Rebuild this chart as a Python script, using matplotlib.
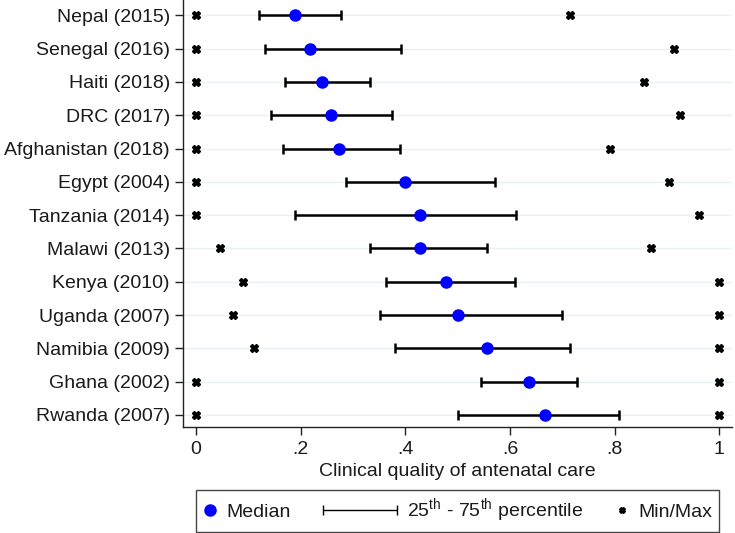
import numpy as np
import matplotlib
matplotlib.use("Agg")
import matplotlib.pyplot as plt
from matplotlib.legend_handler import HandlerErrorbar, HandlerLine2D
from matplotlib.transforms import blended_transform_factory

plt.rcParams['font.family'] = ['Liberation Sans', 'DejaVu Sans']
plt.rcParams['mathtext.fontset'] = 'custom'
plt.rcParams['mathtext.rm'] = 'Liberation Sans'

countries = ["Nepal (2015)", "Senegal (2016)", "Haiti (2018)", "DRC (2017)",
             "Afghanistan (2018)", "Egypt (2004)", "Tanzania (2014)",
             "Malawi (2013)", "Kenya (2010)", "Uganda (2007)",
             "Namibia (2009)", "Ghana (2002)", "Rwanda (2007)"]
median = [0.190, 0.218, 0.240, 0.259, 0.273, 0.400, 0.428,
          0.428, 0.478, 0.500, 0.556, 0.637, 0.667]
p25 = [0.120, 0.131, 0.170, 0.143, 0.167, 0.286, 0.190,
       0.333, 0.363, 0.352, 0.381, 0.545, 0.500]
p75 = [0.278, 0.391, 0.333, 0.375, 0.389, 0.572, 0.611,
       0.556, 0.609, 0.699, 0.714, 0.728, 0.809]
vmin = [0.0, 0.0, 0.0, 0.0, 0.0, 0.0, 0.0,
        0.045, 0.090, 0.071, 0.111, 0.0, 0.0]
vmax = [0.714, 0.913, 0.857, 0.925, 0.792, 0.905, 0.962,
        0.869, 1.0, 1.0, 1.0, 1.0, 1.0]
xticks = [0, 0.2, 0.4, 0.6, 0.8, 1.0]
xticklabels = ["0", ".2", ".4", ".6", ".8", "1"]

FS = 14


class WideErrHandler(HandlerErrorbar):
    # widen the handle box for the percentile bar only
    def legend_artist(self, legend, orig_handle, fontsize, handlebox):
        handlebox.width = 3.85 * fontsize
        return super().legend_artist(legend, orig_handle, fontsize, handlebox)


def thin_bar(legend_handle, orig_handle):
    legend_handle.update_from(orig_handle)
    legend_handle.set_linewidth(1.0)
    if hasattr(legend_handle, "set_markeredgewidth"):
        legend_handle.set_markeredgewidth(1.0)
        legend_handle.set_markersize(6.5)


fig = plt.figure(figsize=(7.35, 5.33), dpi=100)
ax = fig.add_axes([0.2486, 0.1983, 0.7469, 0.8017])

y = np.arange(len(countries))
median = np.array(median)
p25 = np.array(p25)
p75 = np.array(p75)

ax.grid(axis='y', color='#e8f1f3', linewidth=1.0, zorder=0)
ax.set_axisbelow(True)

iqr = ax.errorbar(median, y, xerr=[median - p25, p75 - median], fmt='none',
                  ecolor='black', elinewidth=1.8, capsize=3.9, capthick=1.8,
                  zorder=2, label=r"25$^{\mathrm{th}}$ - 75$^{\mathrm{th}}$ percentile")
med, = ax.plot(median, y, 'o', color='#0000ff', markersize=8, zorder=3,
               linestyle='none', label="Median")
mm, = ax.plot(vmin, y, 'X', color='black', markersize=5.5, zorder=3,
              linestyle='none', label="Min/Max")
ax.plot(vmax, y, 'X', color='black', markersize=5.5, zorder=3, linestyle='none')

ax.set_yticks(y)
ax.set_yticklabels(countries)
ax.set_ylim(12.37, -0.46)
ax.set_xlim(-0.0254, 1.024)
ax.set_xticks(xticks)
ax.set_xticklabels(xticklabels)
ax.set_xlabel("Clinical quality of antenatal care", fontsize=FS, color='#1a1a1a', labelpad=4)

for side in ['top', 'right']:
    ax.spines[side].set_visible(False)
for side in ['left', 'bottom']:
    ax.spines[side].set_linewidth(1.0)
    ax.spines[side].set_color('#222222')
ax.tick_params(axis='both', labelsize=FS, labelcolor='#1a1a1a', width=1.0,
               length=5.8, color='#222222')
ax.tick_params(axis='y', pad=3.5)
ax.tick_params(axis='x', pad=4)

trans = blended_transform_factory(ax.transData, fig.transFigure)
leg = ax.legend([med, iqr, mm], ["Median", iqr.get_label(), "Min/Max"],
                handler_map={iqr: WideErrHandler(xerr_size=1.9, update_func=thin_bar),
                             mm: HandlerLine2D(marker_pad=0)},
                ncol=3, mode='expand', loc='center',
                bbox_to_anchor=(0, 0.0088, 1, 0.0657), bbox_transform=trans,
                borderaxespad=0, fontsize=FS, handlelength=0.7,
                handletextpad=0.5, borderpad=0.35, fancybox=False,
                frameon=True, framealpha=1, edgecolor='#444444', numpoints=1)
leg.get_frame().set_linewidth(1.0)
for h in leg.legend_handles:
    if hasattr(h, "get_marker") and h.get_marker() == 'X':
        h.set_markersize(4)
for t in leg.get_texts():
    t.set_color('#1a1a1a')

fig.savefig("out.png", dpi=100)
